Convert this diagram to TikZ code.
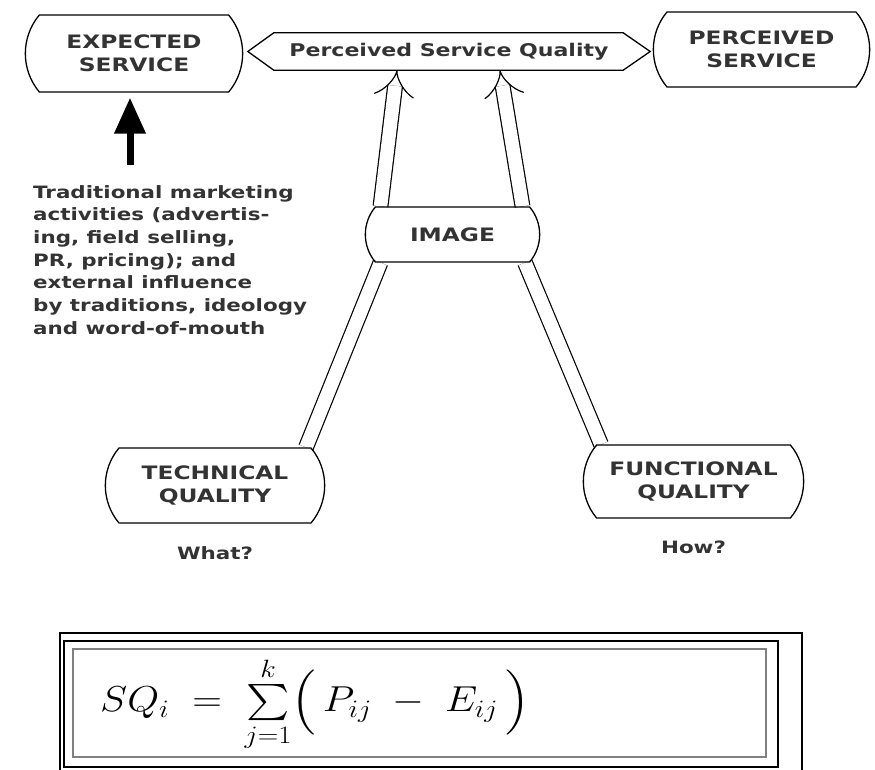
\documentclass[tikz,border=0pt]{standalone}
\usepackage{amsmath}
\usepackage{graphicx}
\usepackage{fontspec}
\usetikzlibrary{shapes.misc,positioning,arrows.meta,backgrounds}
\newfontfamily\widesf[FakeStretch=1.26]{DejaVu Sans Bold}

\tikzset{
  qbox/.style={draw,line width=1.3pt,rounded rectangle,rounded rectangle arc length=80,
    align=center,text=black!80,font=\widesf\fontsize{18.5}{23}\selectfont},
  dbl/.style={double,double distance=13.5pt,line width=1.2pt},
  note/.style={text=black!80,font=\widesf\fontsize{17}{22.7}\selectfont}
}

\begin{document}
\begin{tikzpicture}[x=1pt,y=-1pt]
\useasboundingbox (0,0) rectangle (875,770);
% top row
\node[qbox,minimum width=224pt,minimum height=77pt] (exp) at (134,53.5) {EXPECTED\\SERVICE};
\node[qbox,minimum width=223pt,minimum height=75pt] (per) at (761.5,49.5) {PERCEIVED\\SERVICE};
\node[note,minimum width=402pt,minimum height=37pt,font=\widesf\fontsize{17.5}{20}\selectfont] (psq) at (449,51.5) {Perceived Service Quality};
\draw[line width=1.3pt] (psq.west) -- ([xshift=26pt]psq.north west) -- ([xshift=-27pt]psq.north east)
  -- (psq.east) -- ([xshift=-27pt]psq.south east) -- ([xshift=26pt]psq.south west) -- cycle;
% middle and bottom
\node[qbox,minimum width=181pt,minimum height=55pt] (img) at (452.5,234.5) {IMAGE};
\node[qbox,minimum width=226pt,minimum height=75pt] (tech) at (215,485.5) {TECHNICAL\\QUALITY};
\node[qbox,minimum width=227pt,minimum height=73pt] (func) at (693.5,481.5) {FUNCTIONAL\\QUALITY};
\node[note,below=19pt of tech] (what) {What?};
\node[note,below=19pt of func] (how) {How?};
% marketing influence
\node[note,anchor=north west,align=left,inner sep=0] (trad) at (33,185)
  {Traditional marketing\\activities (advertis-\\ing, field selling,\\PR, pricing); and\\external influence\\by traditions, ideology\\and word-of-mouth};
\coordinate (adv) at (130,165);
\draw[line width=7pt,-{Triangle[width=30pt,length=36pt]}] (adv) -- ([yshift=-5pt]adv |- exp.south);
% double connectors
\begin{pgfonlayer}{background}
\draw[dbl,-{Implies}] ([xshift=-72pt]img.north) -- ([xshift=-52pt]psq.south);
\draw[dbl,-{Implies}] ([xshift=70pt]img.north) -- ([xshift=51pt]psq.south);
\draw[dbl] ([xshift=91pt]tech.north) -- ([xshift=-72pt]img.south);
\draw[dbl] ([xshift=-92.5pt]func.north) -- ([xshift=72.5pt]img.south);
\end{pgfonlayer}
% formula frame
\draw[line width=2pt] (60,770) -- (60,633) -- (802,633) -- (802,770);
\draw[line width=1.6pt] (64,641) rectangle (778,767);
\draw[line width=1.2pt,gray] (73,649) rectangle (766,757);
\node[anchor=west,inner sep=0,font=\fontsize{24}{24}\selectfont] (sq) at (100,704)
  {\scalebox{1.65}[1.45]{$SQ_i \;=\; \sum\limits_{j=1}^{k}\Bigl(\,P_{ij} \;-\; E_{ij}\,\Bigr)$}};
\end{tikzpicture}
\end{document}
